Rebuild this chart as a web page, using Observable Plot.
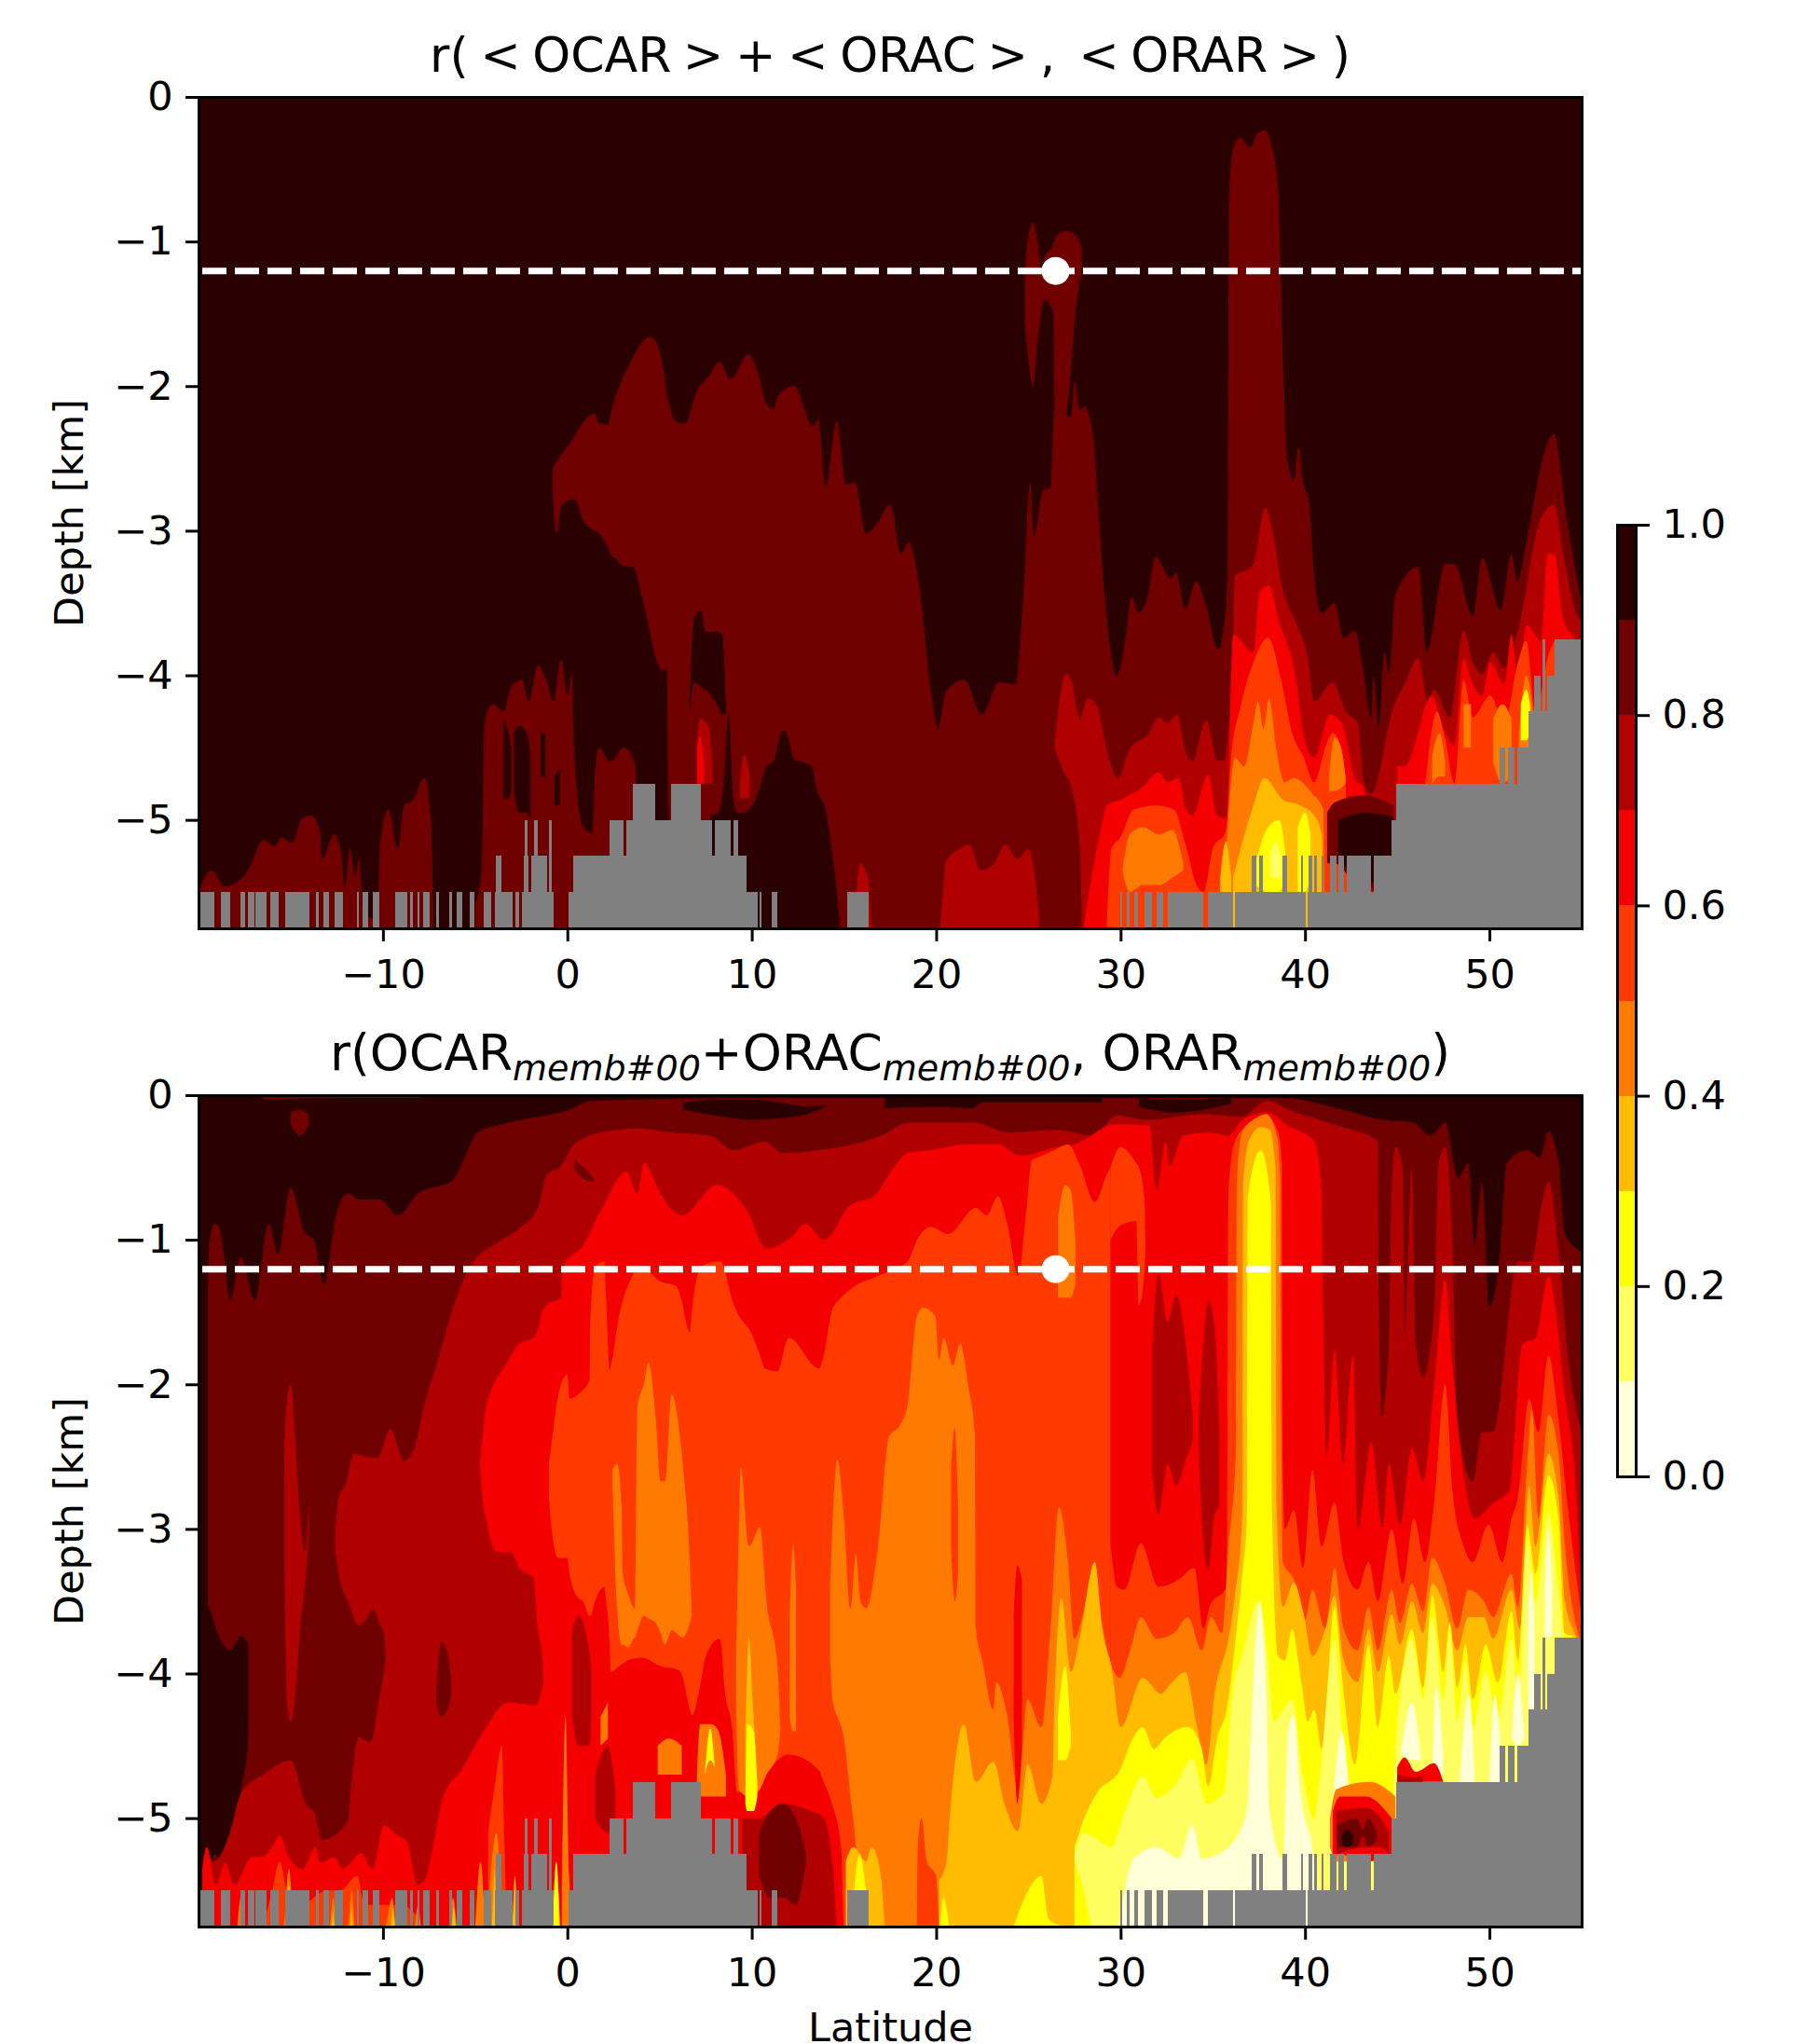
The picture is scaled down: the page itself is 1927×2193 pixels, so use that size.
<!DOCTYPE html>
<html><head><meta charset="utf-8">
<script src="https://cdn.jsdelivr.net/npm/d3@7"></script>
<script src="https://cdn.jsdelivr.net/npm/@observablehq/plot@0.6"></script>
<style>
html,body{margin:0;padding:0;background:#fff;width:1927px;height:2193px;overflow:hidden}
#fig{position:relative;width:1927px;height:2193px;font-family:"DejaVu Sans",sans-serif}
#fig>div.p{position:absolute;left:0}
.t{position:absolute;left:213px;width:1484px;text-align:center;line-height:60px;white-space:pre;color:#000}
.t sub{font-size:38px;font-style:italic;vertical-align:baseline;position:relative;top:11px}
</style></head><body><div id="fig"></div>
<script>
const thresholds=[.1,.2,.3,.4,.5,.6,.7,.8,.9];
const palette=["#ffffd8","#ffff62","#ffff00","#ffbc00","#ff7a00","#ff3a00","#f40000","#b00000","#700000","#2a0000"];
const latTicks=[-10,0,10,20,30,40,50];
const depthTicks=[0,-1,-2,-3,-4,-5];
const barTicks=[0,.2,.4,.6,.8,1];
const bedDepth=-5.75;
const refDepth=-1.2, refLat=26.45;

// sea-floor mask: [lat from, lat to, floor depth]
const floor=[[-20,-19.15,-5.5],[-18.8,-18.3,-5.5],[-17.75,-17.45,-5.5],[-17.3,-16.95,-5.5],[-16.9,-16.3,-5.5],[-16.1,-15.65,-5.5],[-15.3,-14,-5.5],[-13.65,-13.5,-5.5],[-13.25,-12.9,-5.5],[-12.6,-12.15,-5.5],[-11.4,-11.3,-5.5],[-11.1,-10.8,-5.5],[-10.55,-10.2,-5.5],[-9.35,-8.7,-5.5],[-8.55,-8.4,-5.5],[-8.1,-8,-5.5],[-7.8,-7.45,-5.5],[-7.1,-6.95,-5.5],[-6.4,-6.25,-5.5],[-6,-5.7,-5.5],[-5.3,-5.05,-5.5],[-4.55,-4.15,-5.5],[-3.95,-2.95,-5.5],[-2.8,-2.6,-5.5],[-2.45,-.75,-5.5],[.05,10.3,-5.5],[10.4,10.55,-5.5],[11.1,11.4,-5.5],[15.2,16.35,-5.5],
[-3.9,-3.55,-5.25],[-2.35,-2.1,-5.25],[-1.95,-1.1,-5.25],[.3,9.7,-5.25],[-2.3,-2.15,-5],[-1.8,-1.6,-5],[-1,-.85,-5],[2.3,3.05,-5],[3.2,7.85,-5],[8,8.85,-5],[9,9.25,-5],[3.55,4.75,-4.75],[5.6,7.25,-4.75],
[30,30.1,-5.5],[30.35,30.5,-5.5],[30.75,30.95,-5.5],[31.3,31.7,-5.5],[31.95,32.3,-5.5],[32.55,34.5,-5.5],[34.75,36.1,-5.5],[36.2,40.05,-5.5],[40.15,55,-5.5],
[37.1,37.35,-5.25],[37.5,37.7,-5.25],[38.8,39.05,-5.25],[39.8,39.9,-5.25],[40.2,40.4,-5.25],[40.5,40.65,-5.25],[40.9,41,-5.25],[41.35,41.7,-5.25],[41.8,42.1,-5.25],[42.25,43.6,-5.25],[43.75,55,-5.25],
[44.7,55,-5],[44.95,55,-4.75],[50.55,50.85,-4.5],[51,51.35,-4.5],[51.5,55,-4.5],[52.1,55,-4.25],[52.4,52.8,-4],[53.15,55,-4],[52.9,53.05,-3.75],[53.55,55,-3.75]];

// Panel 1 contour regions: [lat, upper depth, lower depth (floor when omitted)]
const a1_85_main=[[-.81,-2.59,-2.7],[-.75,-2.56,-2.85],[-.57,-2.52,-3.02],[-.37,-2.48,-2.85],[-.25,-2.46,-2.82],[.12,-2.4,-2.79],[.37,-2.35,-2.78],[.86,-2.25,-2.93],[1.47,-2.19,-3],[1.72,-2.26,-3.02],[1.84,-2.26,-3.04],[2.21,-2.27,-3.12],[2.33,-2.2,-3.16],[2.7,-2.04,-3.2],[2.95,-1.96,-3.24],[3.44,-1.83,-3.25],[3.56,-1.8,-3.25],[4.05,-1.7,-3.46],[4.42,-1.66,-3.67],[4.79,-1.69,-3.88],[4.91,-1.72,-3.92],[5.16,-1.85,-3.97],[5.41,-2.06,-3.95],[5.45,-2.08,-4.7],[5.77,-2.23],[6.39,-2.26],[7,-2.04],[7.74,-1.92],[8.23,-1.83],[8.85,-1.95],[9.83,-1.78],[10.3,-1.89],[10.8,-2.12],[11.2,-2.16],[11.4,-2.07],[12.3,-2],[13.3,-2.28],[13.6,-2.23],[14,-2.7],[14.6,-2.24],[15.1,-2.68],[15.6,-2.67],[16.2,-3.02],[16.8,-2.95],[17.5,-2.82],[18.1,-3.16],[18.5,-3.08],[18.8,-3.18],[19.1,-3.4],[19.7,-4.1],[20.1,-4.37],[20.5,-4.12],[21.5,-4.03],[22.5,-4.27],[23.4,-4.05],[24.3,-4.06],[24.7,-3.5],[25.1,-2.67],[25.3,-3.04],[25.8,-2.72],[26.2,-2.7],[26.4,-2.17],[27.3,-2.21],[27.5,-1.97],[27.8,-2.17],[28,-2.14],[28.5,-2.33],[28.75,-2.78],[29.2,-3.54],[29.8,-4],[30.2,-3.8],[30.6,-3.46],[31,-3.57],[31.45,-3.46],[31.9,-3.18],[32.7,-3.33],[33,-3.29],[33.5,-3.54],[34.1,-3.35],[34.6,-3.5],[35.3,-3.82],[35.7,-3.54],[35.8,-3.2],[35.88,-.7],[36.1,-.36],[36.5,-.28],[37,-.35],[37.45,-.25],[37.8,-.23],[38.3,-.4],[38.55,-.66],[38.8,-1.8],[39.05,-2.51],[39.4,-2.65],[39.65,-2.42],[39.9,-2.67],[40.2,-2.78],[40.5,-3.31],[40.9,-3.57],[41.6,-3.5],[42.1,-3.74],[42.7,-3.69],[43.1,-3.91],[43.6,-4.29],[43.7,-4],[44,-4.37],[44.3,-3.84],[44.55,-3.99],[44.9,-3.44],[46.15,-3.25],[46.6,-3.84],[47.6,-3.23],[48.1,-3.23],[49.1,-3.59],[49.6,-3.19],[50.6,-3.55],[51.2,-3.16],[51.5,-3.35],[52,-3.08],[52.8,-2.55],[53.5,-2.33],[54.2,-2.93],[55,-3.5]];
const a1_85_lobe=[[24.8,-1.27,-1.57],[24.95,-1,-1.76],[25.25,-.87,-2],[25.5,-1,-1.68],[25.7,-1.19,-1.49],[25.85,-1.12,-1.4],[26.35,-1.02,-1.49],[26.45,-.98,-2.25],[26.9,-.93,-2.25],[27.2,-.93,-2.05],[27.5,-.95,-1.57],[27.9,-1.04,-1.19]];
const a1_85_lowA=[[-19.9,-5.46],[-19.3,-5.35],[-18.55,-5.46],[-17.3,-5.35],[-16.5,-5.14],[-15.85,-5.18],[-15.5,-5.12],[-14.9,-5.16],[-14.4,-4.99],[-13.9,-4.97],[-13.4,-5.08],[-13.3,-5.27],[-12.65,-5.1],[-12.3,-5.2],[-12.05,-5.46],[-11.8,-5.2],[-11.5,-5.39],[-11.3,-5.27],[-11.05,-5.65],[-10.3,-5.69],[-10.15,-5.16],[-9.7,-4.93],[-9.2,-5.2],[-8.85,-4.9],[-8.35,-4.86],[-7.75,-4.71],[-7.4,-5],[-7.25,-5.73]];
const a1_85_lowB=[[-5,-5.58],[-4.65,-5.35],[-4.5,-4.33],[-4.05,-4.2],[-3.45,-4.25],[-3.05,-4.08],[-2.45,-4.03],[-2.1,-4.18],[-1.6,-3.93],[-1.1,-4.05],[-.75,-4.18],[-.35,-3.89],[0,-4.14],[.25,-3.99],[.35,-4.48],[.85,-5.05],[1.35,-5.09],[1.5,-4.67],[1.7,-4.5],[2.35,-4.6],[3.05,-4.5],[3.7,-4.63],[3.72,-4.75]];
const a1_95_slitA=[[-3.45,-4.3,-4.85],[-3.2,-4.4,-4.85],[-3.05,-4.5,-4.8]];
const a1_95_slitB=[[-2.9,-4.4,-4.8],[-2.6,-4.35,-4.95],[-2.2,-4.4,-4.95],[-2,-4.55,-5]];
const a1_95_slitC=[[-1.45,-4.4,-4.7],[-1.2,-4.4,-4.7]];
const a1_95_slitD=[[-.7,-4.7,-4.9],[-.4,-4.65,-4.9]];
const a1_95_capA=[[6.63,-4.2,-4.27],[6.88,-3.6,-4.05],[7.25,-3.55,-4.08],[7.5,-3.7,-4.1],[8.1,-3.7,-4.2],[8.4,-3.72,-4.27],[8.6,-4.2,-4.27]];
const a1_95_capB=[[7.74,-4.97],[8.2,-4.95],[8.5,-4.7],[8.75,-4.26],[9,-4.85],[9.2,-4.95],[9.55,-4.95],[10.3,-4.83],[10.8,-4.63],[11.15,-4.6],[11.7,-4.38],[12,-4.44],[12.25,-4.57],[13.25,-4.63],[13.5,-4.78],[14,-4.93],[14.4,-5.27],[14.65,-5.54],[14.8,-5.75]];
const a1_75_mid=[[26.4,-4.5,-4.5],[27.05,-3.99,-4.7],[27.3,-4.03,-4.76],[27.8,-4.31,-5.2],[27.95,-4.25],[28.25,-4.16],[28.75,-4.22],[29.25,-4.52],[29.85,-4.71],[30.45,-4.52],[31.55,-4.4],[32.05,-4.29],[32.55,-4.33],[33.05,-4.27],[33.55,-4.54],[33.9,-4.59],[34.65,-4.31],[35.25,-4.59],[35.6,-4.59],[36.1,-3.72],[36.2,-3.31],[36.85,-3.27],[37.2,-3.23],[37.85,-2.84],[38.3,-3.04],[38.7,-3.35],[39.55,-3.65],[40.15,-3.88],[40.5,-4.18],[41.5,-4.05],[42.2,-4.25],[42.85,-4.33],[43.2,-4.74],[43.6,-4.82],[44.8,-4.22],[45.4,-4.06],[46.15,-3.88],[46.65,-4.18],[47,-4.1],[47.85,-4.29],[48.6,-3.69],[49.1,-3.91],[49.6,-3.99],[50.2,-3.84],[50.8,-3.95],[51.55,-3.69],[52.75,-2.93],[53.5,-2.82],[54,-3.16],[54.7,-3.57],[55,-3.63]];
const a1_75_low=[[20.2,-5.75],[20.3,-5.6],[20.55,-5.28],[21.3,-5.2],[21.8,-5.17],[22.4,-5.35],[23.15,-5.3],[23.75,-5.17],[24.4,-5.27],[25,-5.2],[25.5,-5.57],[25.6,-5.75]];
const a1_75_spotA=[[7,-4.5,-4.75],[7.2,-4.3,-4.75],[7.7,-4.37,-4.75],[7.85,-4.6,-4.75]];
const a1_75_spotB=[[9.35,-4.75,-4.85],[9.6,-4.55,-4.85],[9.9,-4.7,-4.85]];
const a1_75_spotC=[[15.7,-5.5],[15.85,-5.3],[16.3,-5.4],[16.5,-5.75]];
const a1_65_spotA=[[7.05,-4.5,-4.75],[7.2,-4.42,-4.75],[7.4,-4.6,-4.75]];
const a1_65_main=[[28,-5.73],[28.9,-5.08],[29.25,-4.9],[30,-4.86],[30.6,-4.82],[31.3,-4.76],[32.05,-4.67],[32.55,-4.74],[33.15,-4.71],[33.55,-4.93],[33.9,-4.97],[34.75,-4.69],[35.25,-4.97],[35.75,-4.99],[36.1,-3.72],[37.2,-3.84],[37.55,-3.42],[38.05,-3.38],[38.55,-3.61],[39.55,-4.06],[39.9,-4.4],[40.5,-4.57],[41.35,-4.27],[42,-4.33],[42.7,-4.71],[43.2,-4.78],[43.3,-5.5]];
const a1_65_right=[[45,-4.63],[45.4,-4.63],[46.9,-4.14],[47.4,-4.33],[48.1,-4.48],[48.6,-3.88],[49,-4.03],[49.6,-4.14],[50.05,-3.91],[50.8,-4.06],[51.2,-3.72],[51.55,-4.03],[52,-3.65],[52.8,-3.76],[53.15,-3.16],[53.5,-3.16],[54,-3.61],[54.75,-3.76],[55,-3.8]];
const a1_55_main=[[29.25,-5.73],[29.5,-5.2],[30,-5.12],[30.7,-4.93],[31.95,-4.9],[32.9,-4.93],[33.5,-5.16],[34.15,-5.46],[34.5,-5.5],[35,-5.2],[35.7,-5.08],[36,-4.56],[36.5,-4.22],[37.2,-3.91],[38,-3.74],[38.7,-4.03],[39.3,-4.4],[39.9,-4.56],[40.5,-4.74],[41.15,-4.48],[41.5,-4.4],[42,-4.52],[42.2,-4.78],[42.3,-5]];
const a1_55_right=[[45,-5],[46.5,-4.75],[46.8,-4.44],[47.15,-4.25],[47.6,-4.44],[48.1,-4.75],[48.6,-4.03],[49.1,-4.29],[50.05,-4.14],[50.8,-4.33],[51.55,-3.91],[52,-3.76],[52.5,-4.25],[53.25,-3.84],[53.7,-3.75],[54.5,-3.8],[55,-3.9]];
const a1_45_spots=[[30.1,-5.35,-5.35],[30.5,-5.1,-5.5],[31.2,-5.05,-5.45],[32.1,-5.1,-5.45],[32.8,-5.07,-5.4],[33.4,-5.3,-5.35]];
const a1_45_tower=[[35.7,-5.3],[36.2,-4.57],[36.7,-4.63],[37.2,-4.33],[37.45,-4.18],[37.75,-4.37],[38.05,-4.16],[38.45,-4.52],[38.9,-4.74],[39.4,-4.71],[40.4,-4.82],[41,-4.93],[41.05,-5.5]];
const a1_45_patch=[[41.3,-4.7,-4.8],[41.6,-4.43,-4.8],[41.95,-4.5,-4.78],[42.2,-4.7,-4.75]];
const a1_45_spotA=[[46.9,-4.55,-4.75],[47.3,-4.4,-4.7],[47.6,-4.6,-4.7]];
const a1_45_spotB=[[48.6,-4.2,-4.5],[49,-4.2,-4.5]];
const a1_45_spotC=[[50.2,-4.3,-4.6],[50.7,-4.2,-4.75],[51.2,-4.3,-4.7]];
const a1_45_spotD=[[51.6,-4.4,-4.6],[52,-4,-4.5],[52.4,-4.3,-4.5]];
const a1_35_tower=[[36.1,-5.4],[37.2,-4.9],[37.8,-4.71],[38.8,-4.86],[39.75,-4.9],[40.5,-4.97],[40.9,-5.1],[41,-5.5]];
const a1_35_spot=[[35.4,-5.4,-5.5],[35.7,-5.15,-5.5],[36,-5.4,-5.5]];
const a1_25_spotA=[[37.3,-5.3,-5.45],[38,-5.05,-5.5],[38.6,-5,-5.5],[39,-5.3,-5.35]];
const a1_25_spotB=[[39.6,-5.05,-5.5],[40,-4.95,-5.5],[40.3,-5.1,-5.4]];
const a1_25_spotC=[[51.7,-4.2,-4.45],[52,-4.1,-4.45],[52.2,-4.2,-4.4]];
const a1_15_spot=[[38.1,-5.25,-5.4],[38.4,-5.15,-5.4],[38.7,-5.25,-5.4]];
const a1_85_patch=[[41.2,-4.95,-5.3],[41.6,-4.88,-5.3],[43.2,-4.83,-5.5],[44.8,-4.9,-5.3]];
const a1_95_patch=[[41.8,-5,-5.25],[43.3,-4.95,-5.45],[44.8,-4.98,-5.25]];

// Panel 2 contour regions
const a2_85_main=[[-19.5,-1.4],[-19.4,-1],[-19.15,-.89],[-18.9,-.91],[-18.65,-1.08],[-18.3,-1.42],[-17.7,-1.12],[-16.95,-1.42],[-16.2,-.89],[-15.7,-1.1],[-15,-.64],[-14.25,-.95],[-13.75,-1],[-13.2,-1.31],[-12.55,-.83],[-11.9,-.68],[-11.3,-.72],[-10.2,-.72],[-9.2,-.83],[-8.1,-.68],[-6.25,-.59],[-4.8,-.25],[-3.8,-.21],[-2.45,-.17],[-.1,-.11],[1.35,-.04],[3.8,-.03],[10,-.02],[38.8,-.02],[41.75,-.09],[44.2,-.17],[45.9,-.19],[46.8,-.28],[47.6,-.19],[48.3,-.57],[48.85,-.47],[49.2,-1.04],[49.6,-.6],[50,-1.46],[50.55,-1.12],[50.95,-.47],[52,-.38],[52.75,-.43],[53.2,-.25],[53.75,-.47],[54.1,-.96],[55,-1.08]];
const a2_95_column=[[-20,-3.5],[-19.4,-3.55,-5.6],[-19.15,-3.65,-5.25],[-18.9,-3.74,-5.27],[-18.3,-3.84,-5.1],[-17.7,-3.74,-4.8],[-17.3,-3.8,-4.45],[-17.28,-4,-4]];
const a2_95_surfA=[[6.3,-.05,-.1],[8,-.03,-.14],[10,-.03,-.17],[11.5,-.05,-.16],[13,-.08,-.13],[14,-.07,-.08]];
const a2_95_surfB=[[17.2,0,-.09],[20,0,-.08],[22,0,-.09],[22.5,0,-.05],[24,0,-.05],[29,0,-.05]];
const a2_95_surfC=[[31,-.02,-.08],[33,-.03,-.12],[36,-.02,-.06]];
const a2_85_ovalA=[[-15,-.12,-.2],[-14.5,-.1,-.28],[-14,-.14,-.2]];
const a2_85_surf=[[-16.5,0,-.03],[-12,0,-.02],[-8,0,-.02]];
const a2_75_main=[[-12.6,-3.04],[-12.4,-2.78],[-12.05,-2.7],[-11.55,-2.48],[-10.95,-2.5],[-10.3,-2.51],[-9.6,-2.31],[-8.85,-2.53],[-8.25,-2.42],[-7.75,-2.14],[-7.1,-1.87],[-6.25,-1.49],[-5.3,-1.19],[-3.8,-1.02],[-2.6,-.92],[-1.6,-.78],[-1.1,-.55],[-.35,-.49],[.37,-.34],[2.1,-.25],[3.8,-.23],[5.77,-.26],[7.75,-.28],[9,-.38],[10.7,-.32],[11.65,-.4],[13.6,-.38],[17.2,-.27],[18.45,-.19],[20.4,-.19],[22,-.19],[24,-.26],[26.5,-.24],[28.5,-.28],[29.8,-.14],[31.5,-.17],[34.5,-.13],[36.5,-.15],[37.95,-.04],[39.3,-.11],[41.75,-.21],[43.95,-.32],[44,-1.42],[44.15,-2.22],[44.5,-1.87],[44.7,-.66],[44.9,-.36],[45.3,-.51],[45.4,-1.64],[45.8,-.49],[46,-1.72],[46.4,-1.95],[47,-1.49],[47.25,-.47],[47.6,-.36],[48,-1.04],[48.25,-2.25],[49.1,-2.67],[49.6,-2.33],[50.2,-2.33],[51.55,-1.15],[52.3,-1.15],[52.75,-.81],[53.2,-.6],[53.75,-1.08],[54.25,-1.8],[55,-2.33]];
const a2_75_narrow=[[-15.35,-2.4,-3.2],[-15.2,-2.1,-4.2],[-15,-2,-4.33],[-14.75,-2.4,-4.15],[-14.5,-2.9,-3.7],[-14.2,-3.15,-3.35],[-14,-2.8,-3]];
const a2_85_patch=[[-12.65,-3.1],[-12.3,-3.37],[-11.9,-3.5,-5.05],[-11.3,-3.67,-4.44],[-10.7,-3.58,-4.48],[-10.55,-3.55,-4.45],[-10.2,-3.65,-4.18],[-9.95,-3.72,-4],[-9.85,-3.91,-3.91]];
const a2_85_notch=[[.4,-.45,-.52],[.9,-.5,-.58],[1.45,-.58,-.6]];
const a2_85_ovalB=[[-7.1,-4.1,-4.2],[-6.85,-3.78,-4.3],[-6.5,-3.85,-4.25],[-6.3,-4.05,-4.15]];
const a2_75_lowLeft=[[-19.65,-5.2],[-19.15,-5.3],[-18.3,-5.1],[-17.7,-4.83],[-16.5,-4.7],[-15,-4.6],[-14.2,-4.9],[-13.7,-4.97],[-13.3,-5.15],[-12.05,-5.05],[-11.8,-4.97],[-11.3,-4.45],[-10.7,-4.48],[-10.2,-4.18],[-9.85,-3.91]];
const a2_65_main=[[-4.75,-2.55,-2.55],[-4.55,-2.3,-2.85],[-4.4,-2.14,-2.93],[-4.3,-2.1,-3],[-3.8,-1.95,-3.16],[-3.55,-1.91,-3.16],[-3.05,-1.8,-3.16],[-2.6,-1.72,-3.27],[-2.45,-1.71,-3.29],[-1.85,-1.68,-3.33],[-1.6,-1.62,-3.69],[-1.35,-1.49,-3.9],[-1.1,-1.45],[-.35,-1.4],[-.25,-1.19],[.85,-1.04],[1.85,-.79],[3.2,-.53],[3.8,-.68],[4.15,-.47],[5.05,-.68],[5.65,-.79],[6.25,-.83],[8.1,-.62],[9.7,-.79],[10.8,-1.06],[12.15,-.98],[12.9,-.89],[13.9,-1],[15.35,-.76],[16.6,-.7],[17.75,-.49],[18.45,-.4],[19.7,-.38],[21.65,-.34],[23.35,-.34],[24.6,-.42],[26.55,-.36],[27.5,-.34],[29.75,-.2],[31.55,-.21],[31.95,-.66],[32.45,-.32],[32.65,-.49],[33.4,-.28],[34.9,-.26],[35.85,-.28],[36.6,-.17],[37.95,-.12],[39.05,-.21],[40.5,-.32],[40.9,-.66],[41,-1.53],[41.15,-2.51],[41.6,-1.76],[42.05,-2.55],[42.6,-1.8],[42.85,-3],[43.6,-2.4],[44.2,-2.99],[44.55,-2.55],[45.15,-2.97],[45.8,-2.44],[46.4,-2.67],[47,-2.02],[47.6,-1.27],[48,-1.87],[48.6,-2.63],[49.2,-2.93],[50.2,-2.82],[51.05,-2.74],[51.8,-1.72],[52.5,-1.68],[53.2,-1.25],[53.6,-1.49],[54,-1.98],[54.75,-2.85],[55,-3.53]];
const a2_65_lowLeft=[[-19.8,-5.35],[-19.55,-5.2],[-19.05,-5.46],[-18.55,-5.31],[-18.05,-5.46],[-17.1,-5.27],[-16.6,-5.27],[-16,-5.2],[-15.6,-5.12],[-15.1,-5.27],[-14.35,-5.35],[-13.65,-5.2],[-13.4,-5.31],[-12.65,-5.27],[-12.15,-5.35],[-11.2,-5.24],[-10.55,-5.35],[-9.95,-5.05],[-9.2,-5.12],[-8.7,-5.16],[-8.1,-5.46],[-7.75,-5.43],[-6.75,-4.86],[-5.75,-4.67],[-4.55,-4.4],[-3.2,-4.2],[-1.7,-4.22],[-1.35,-4.1],[-1.1,-3.99]];
const a2_75_inA=[[.25,-3.7,-4.3],[.6,-3.6,-4.5],[1.2,-3.85,-4.5],[1.3,-4,-4.3]];
const a2_75_inB=[[1.5,-4.7,-5],[2.2,-4.5,-5.1],[2.6,-4.8,-5]];
const a2_75_inC=[[31.7,-1.8,-2.6],[32.05,-1.23,-2.9],[32.55,-1.57,-2.55],[33,-1.38,-2.7],[33.6,-1.8,-2.5],[33.9,-2.2,-2.4]];
const a2_75_inD=[[34.25,-2.2,-2.5],[34.5,-1.7,-3.1],[34.75,-1.42,-3.28],[35.1,-1.6,-2.9],[35.35,-2.3,-2.85]];
const a2_55_main=[[-1,-2.55,-2.78],[-.85,-2.4,-3],[-.5,-2.08,-3.2],[0,-1.93,-3.2],[.12,-2.1,-3.31],[.6,-2.07,-3.48],[.85,-2.04,-3.5],[1.2,-1.97,-3.6],[1.25,-1.55,-3.6],[1.5,-1.19,-3.5],[2,-1.15,-3.4],[2.1,-1.4,-3.5],[2.3,-1.9,-3.8],[2.35,-1.88,-3.99],[2.8,-1.53,-3.95],[3.45,-1.27,-3.9],[4.05,-1.19,-3.89],[5.05,-1.29,-3.95],[5.9,-1.32,-3.97],[6.15,-1.4,-3.99],[6.65,-1.64,-4.25],[6.75,-1.5,-4.29],[7.25,-1.19,-4.05],[7.5,-1.17,-3.88],[8.25,-1.15,-3.76],[8.35,-1.15,-3.8],[8.5,-1.2,-4.07],[8.95,-1.42,-4.4],[9.2,-1.5,-4.82],[9.95,-1.64,-4.8],[10.45,-1.8,-4.78],[10.7,-1.89,-4.7],[11.4,-1.91,-4.6],[11.9,-1.7,-4.56],[12,-1.68,-4.56],[13.65,-1.89,-4.67],[13.9,-1.8,-4.75],[14.35,-1.49,-4.9],[14.85,-1.4,-5.2],[15,-1.38],[15.35,-1.34],[16.85,-1.25],[17.75,-1.2],[18.45,-1.15],[19.05,-.98],[19.7,-.91],[20.65,-.96],[22.15,-.78],[22.75,-.83],[23.35,-.7],[23.85,-.89],[24.45,-1.25],[24.85,-.85],[25.2,-.45],[25.7,-.42],[26.4,-.38],[27.15,-.34],[27.75,-.47],[28.6,-.74],[29.25,-.55],[29.45,-.5]];
const a2_55_notch=[[29.45,-.5,-1],[30,-.36,-.9],[30.85,-.47,-.87],[31,-.5,-1.45],[31.3,-.74,-1.2],[31.35,-1,-1.05]];
const a2_55_right=[[29.45,-3.1],[29.8,-3.4],[30.2,-3.42],[31.1,-3.1],[32.05,-3.4],[33.15,-3.35],[34,-3.27],[34.5,-3.69],[34.85,-3.53],[35.75,-3.4],[35.85,-.66],[36.2,-.32],[36.85,-.21],[37.95,-.15],[38.55,-.26],[38.75,-.47],[38.77,-1.49],[38.8,-2.55],[38.9,-3],[39.4,-2.87],[39.9,-3.27],[40.4,-2.59],[40.9,-3.12],[41.6,-2.82],[42.1,-3.23],[42.85,-3.42],[43.45,-3.23],[43.95,-3.5],[44.7,-3],[45.3,-3.38],[45.9,-2.93],[46.5,-3.23],[47,-2.82],[47.6,-2],[48,-2.74],[48.6,-3.12],[49.1,-3.23],[49.95,-2.97],[50.7,-3.23],[51.2,-2.93],[51.55,-2.78],[52.15,-2.1],[52.65,-2.33],[53.2,-1.8],[53.75,-2.25],[54.25,-2.85],[55,-3.61]];
const a2_55_bitA=[[-4.3,-5.1],[-3.9,-4.75],[-3.55,-4.5],[-3.4,-5.2],[-3.3,-5.75]];
const a2_55_low=[[-16.5,-5.75],[-16,-5.5],[-15.6,-5.3],[-15.2,-5.5],[-14.5,-5.6],[-13,-5.5],[-12.3,-5.5],[-11.4,-5.4],[-11,-5.6],[-10,-5.6],[-9,-5.6],[-8,-5.7]];
const a2_45_blobA=[[2.45,-2.59,-2.7],[2.7,-2.55,-3.55],[2.95,-2.85,-3.8],[3,-3.3,-3.8],[3.3,-3.45,-3.82],[3.65,-3.55,-3.75],[3.7,-3.2,-3.75],[3.75,-2.5,-3.72],[3.8,-2.15,-3.7],[4.15,-2,-3.6],[4.4,-1.85,-3.62],[4.8,-2.25,-3.65],[5.05,-2.67,-3.72],[5.3,-2.67,-3.8],[5.65,-2.07,-3.7],[6.25,-2.55,-3.75],[6.65,-3.25,-3.65],[6.75,-3.6,-3.6]];
const a2_45_blobB=[[9.15,-3.9,-4.2],[9.3,-3,-4.8],[9.4,-2.57,-4.82],[9.85,-3.12,-4.85],[10.45,-2.99,-4.8],[10.8,-3.5,-4.7],[11.4,-3.95,-4.56],[11.55,-4.37,-4.4]];
const a2_45_blobC=[[12.05,-3.6,-4.3],[12.25,-3.1,-4.4],[12.4,-3.4,-4.4]];
const a2_45_main=[[14.25,-3.4,-3.9],[14.4,-2.9,-4.2],[14.65,-2.52,-4.3],[15,-2.93,-4.45],[15.35,-3.55,-4.85],[15.65,-3.17,-5.2],[15.9,-3.5],[16.2,-3.55],[16.85,-3.12],[17.45,-2.36],[18,-2.29],[18.45,-2.14],[18.95,-1.53],[19.3,-1.47],[19.95,-1.53],[20.15,-1.83],[20.4,-1.68],[20.9,-1.87],[21.3,-1.72],[21.75,-2.02],[22.1,-2.36],[22.15,-3.69],[22.5,-3.91],[23.1,-4.25],[23.25,-4.06],[23.85,-4.29],[24.45,-4.82],[24.95,-4.18],[25.7,-4.37],[26.2,-3.69],[26.65,-2.85],[27.15,-3.23],[27.5,-3.76],[28,-3.57],[28.6,-3.23],[29,-3.65],[29.95,-4.03],[30.6,-3.8],[31.1,-3.61],[31.95,-3.76],[32.9,-3.72],[33.65,-3.61],[34.4,-3.84],[34.9,-3.61],[35.5,-3.72],[35.85,-3.12],[36.25,-2.48],[36.3,-.6],[36.6,-.25],[37.2,-.17],[37.9,-.13],[38.5,-.3],[38.65,-.55],[38.68,-1.5],[38.72,-2.5],[38.8,-3.23],[39.4,-3.35],[40,-3.63],[40.4,-3.42],[41.1,-3.69],[41.6,-3.27],[42.1,-3.69],[42.85,-3.84],[43.45,-3.54],[43.95,-3.84],[44.7,-3.42],[45.15,-3.65],[45.8,-3.38],[46.4,-3.57],[46.9,-3.2],[47.6,-3.38],[48.25,-3.69],[48.85,-3.42],[49.7,-3.5],[50.2,-3.61],[51.2,-3.31],[51.55,-3.54],[52.05,-2.55],[52.3,-2.17],[52.65,-2.93],[53.2,-2.21],[53.75,-2.48],[54.1,-3.12],[54.75,-3.69],[55,-3.8]];
const a2_55_thin=[[20.8,-2.6,-3.1],[21,-2.3,-3.5],[21.2,-2.9,-3.3]];
const a2_65_thin=[[24.2,-3.6,-4.3],[24.4,-3.25,-4.9],[24.65,-3.35,-4.5]];
const a2_55_bitB=[[18.95,-5.75],[19,-5.2],[19.2,-5],[19.5,-5.3],[20,-5.4],[20.15,-5.75]];
const a2_45_dot=[[26.6,-.85,-1.4],[27,-.62,-1.4],[27.3,-.66,-1.4],[27.55,-1,-1.3]];
const a2_45_spikeA=[[-5,-5.75],[-4.7,-5.3],[-4.4,-5.75],[-4.1,-5.3],[-3.85,-5.1],[-3.55,-5.5],[-3.3,-5.75]];
const a2_45_spikeB=[[-.3,-5.5],[-.1,-4.3],[.1,-5.4],[.3,-5.75]];
const a2_45_comb=[[-17.9,-5.75],[-17.7,-5.55],[-17.5,-5.75],[-15.4,-5.75],[-15.1,-5.35],[-14.8,-5.75],[-12.9,-5.75],[-12.7,-5.55],[-12.5,-5.75],[-11.9,-5.75],[-11.7,-5.5],[-11.5,-5.75],[-9.9,-5.75],[-9.5,-5.55],[-9.3,-5.75],[-8.3,-5.75],[-8.1,-5.6],[-7.9,-5.75],[-6.4,-5.75],[-6.2,-5.55],[-6,-5.75]];
const a2_45_spotA=[[7,-4.8,-4.8],[7.2,-4.35,-4.85],[7.8,-4.35,-4.85],[8.2,-4.4,-4.85],[8.6,-4.7,-4.85]];
const a2_45_spotB=[[4.9,-4.5,-4.7],[5.5,-4.45,-4.7],[6.2,-4.5,-4.7]];
const a2_45_spotC=[[1.8,-4.3,-4.5],[2.2,-4.2,-4.45]];
const a2_35_spikeC=[[9.65,-4.4,-4.75],[9.85,-3.75,-4.75],[10.05,-4.2,-4.7],[10.2,-4.5,-4.6]];
const a2_35_comb=[[-15.3,-5.75],[-15.1,-5.45],[-14.9,-5.75],[-12.8,-5.75],[-12.7,-5.65],[-12.6,-5.75],[-11.8,-5.75],[-11.7,-5.62],[-11.6,-5.75],[-9.6,-5.75],[-9.45,-5.62],[-9.3,-5.75],[-6.3,-5.75],[-6.15,-5.62],[-6,-5.75],[-4.1,-5.75],[-3.95,-5.35],[-3.8,-5.75],[-3,-5.75],[-2.85,-5.4],[-2.7,-5.75]];
const a2_35_main=[[20.15,-5.43],[20.55,-5.31],[20.8,-4.9],[21.5,-4.35],[22.15,-4.75],[23.1,-4.61],[23.7,-4.9],[24.45,-5.09],[24.95,-4.63],[25.7,-4.9],[26.3,-4.71],[26.4,-4.25],[26.8,-3.48],[27.3,-3.99],[27.75,-3.78],[28.6,-3.23],[29,-3.69],[29.5,-3.95],[30,-4.37],[31.2,-4.03],[32.2,-4.14],[32.65,-4.08],[33.5,-3.99],[34.15,-4.37],[34.65,-4.63],[35.1,-4.14],[35.85,-3.76],[36.2,-3.46],[36.6,-2.9],[36.65,-.6],[37,-.3],[37.6,-.22],[38.1,-.24],[38.4,-.5],[38.45,-2.8],[38.8,-3.54],[39.4,-3.37],[39.9,-3.57],[40.4,-3.88],[41.1,-3.69],[41.6,-3.46],[42.1,-3.91],[42.85,-4.06],[43.45,-3.69],[43.95,-3.99],[44.7,-3.59],[45.15,-3.8],[45.8,-3.5],[46.4,-3.72],[46.9,-3.38],[47.6,-3.54],[48.25,-3.84],[48.85,-3.61],[49.7,-3.61],[50.2,-3.76],[51.2,-3.42],[51.65,-3.69],[52.15,-2.7],[52.5,-3.12],[53.2,-2.48],[53.75,-2.78],[54.1,-3.5],[54.75,-3.76],[55,-3.85]];
const a2_35_bitA=[[15.1,-5.3],[15.5,-5.2],[16.2,-5.3],[16.5,-5.2],[17,-5.4],[17.2,-5.75]];
const a2_25_bitA=[[9.65,-4.85,-4.9],[9.75,-4.35,-4.95],[10.1,-4.4,-4.95],[10.3,-4.75,-4.85]];
const a2_25_bitB=[[7.45,-4.7,-4.7],[7.75,-4.38,-4.6],[8,-4.65,-4.65]];
const a2_25_bitC=[[-.8,-5.75],[-.6,-5.3],[-.4,-5.75]];
const a2_25_bitD=[[15.5,-5.55,-5.5],[15.85,-5.25,-5.5],[16.2,-5.5,-5.5]];
const a2_25_blob=[[26.6,-4.3,-4.6],[27,-3.95,-4.6],[27.3,-4.4,-4.5]];
const a2_25_smallA=[[20.2,-5.75],[20.4,-5.55],[20.7,-5.75]];
const a2_25_smallB=[[24.2,-5.75],[24.8,-5.55],[25.7,-5.4],[26.1,-5.7],[27,-5.75]];
const a2_25_main=[[27.5,-5.2],[28,-5.01],[28.75,-4.82],[29.95,-4.67],[30.7,-4.44],[31.2,-4.37],[31.8,-4.52],[32.45,-4.44],[33.65,-4.37],[34.4,-4.52],[34.75,-4.78],[35.25,-4.44],[35.75,-4.25],[36.2,-3.8],[36.6,-3.31],[36.85,-2.93],[36.9,-.7],[37.6,-.38],[38.15,-.75],[38.2,-2.8],[38.55,-3.88],[38.9,-3.91],[39.3,-3.69],[39.8,-4.06],[40.15,-4.33],[40.5,-4.25],[40.9,-4.52],[41.6,-3.54],[42.1,-4.14],[42.7,-4.63],[43.45,-3.8],[43.95,-4.37],[44.55,-3.88],[44.9,-4.14],[45.8,-3.69],[46.4,-4.1],[46.9,-3.46],[47.5,-3.99],[47.85,-3.65],[48.25,-4.1],[48.7,-3.8],[49.1,-4.18],[49.8,-3.8],[50.45,-4.06],[51.2,-3.57],[51.55,-3.91],[52.05,-2.97],[52.5,-3.31],[53.2,-2.63],[53.75,-2.93],[54.1,-3.72],[54.75,-3.76],[55,-3.8]];
const a2_15_left=[[27.5,-5.25,-5.3],[28,-5.1,-5.5],[28.5,-5.13],[29.5,-5.2],[30.2,-4.97],[31.2,-4.71],[31.95,-4.86],[32.9,-4.78],[33.9,-4.59],[34.65,-4.9],[35.6,-4.82],[36.1,-4.1],[36.6,-3.88],[37.45,-3.5],[37.95,-3.84],[38.3,-4.33],[38.8,-4.25],[39.3,-4.18],[39.9,-4.71],[40.5,-5.01],[40.75,-4.78],[41.6,-3.76],[42.1,-4.52],[42.5,-4.82],[43.3,-5],[44.7,-5],[44.9,-4.56],[45.15,-4.14],[45.8,-3.76],[46.4,-4.18],[46.9,-3.61],[47.5,-4.18],[47.85,-3.72],[48.25,-4.33],[48.7,-3.91],[49.1,-4.37],[49.8,-3.99],[50.45,-4.33],[51.2,-3.76],[51.55,-4.18],[52.05,-3.08],[52.5,-3.5],[53.2,-2.89],[53.75,-3.42],[54.1,-3.76],[55,-3.76]];
const a2_05_main=[[29.9,-5.75],[30.7,-5.28],[31.95,-5.2],[33.15,-5.28],[33.9,-5.05],[34.4,-5.28],[35.85,-5.2],[36.85,-4.95],[37.2,-4.03],[37.55,-3.5],[37.9,-4.14],[38.1,-4.97],[38.8,-5.28],[39.1,-4.37],[39.4,-4.29],[39.75,-4.82],[40.4,-5.2],[40.7,-5.5]];
const a2_05_a=[[41.5,-4.9,-5],[42,-4.4,-4.9],[42.4,-4.8,-4.9]];
const a2_05_b=[[45.2,-4.55,-4.55],[45.8,-4.2,-4.6],[46.3,-4.6,-4.6]];
const a2_05_c=[[46.9,-4.65,-4.65],[47.1,-4.1,-4.75],[47.5,-4.55,-4.7]];
const a2_05_d=[[48.4,-4.7],[48.9,-4.15],[49.2,-4.7]];
const a2_05_e=[[50,-4.7],[50.3,-4.15],[50.7,-4.7]];
const a2_05_f=[[51.2,-4.45,-4.45],[51.55,-4,-4.5],[51.9,-4.45,-4.45]];
const a2_05_g=[[52.1,-3.6,-4.4],[52.3,-3.3,-4.4],[52.45,-3.7,-4.3]];
const a2_05_h=[[53,-3.4,-3.75],[53.2,-3,-3.75],[53.4,-3.4,-3.75]];
const a2_45_patch=[[41.35,-5,-5.2],[41.7,-4.8,-5.3],[43.5,-4.75,-5.3],[44.9,-4.85,-5.25]];
const a2_65_patch=[[41.5,-4.95,-5.25],[41.9,-4.85,-5.25],[43.3,-4.85,-5.3],[44.7,-5,-5.25]];
const a2_75_patch=[[41.7,-4.95,-5.25],[43.3,-4.93,-5.2],[44.1,-5,-5.2],[44.55,-5.1,-5.25]];
const a2_85_patchB=[[41.75,-5.05,-5.2],[42.8,-5,-5.2],[43.15,-5.08,-5.12],[43.4,-5,-5.2],[43.9,-5.1,-5.15]];
const a2_95_patch=[[42.0,-5.12,-5.18],[42.3,-5.08,-5.2],[42.6,-5.12,-5.18]];
const a2_65_shelf=[[45,-4.65,-4.75],[45.4,-4.58,-4.75],[46,-4.68,-4.75],[47,-4.62,-4.75],[47.5,-4.75,-4.75]];
const a2_75_shelf=[[45,-4.7,-4.75],[46,-4.72,-4.75],[46.4,-4.7,-4.75]];
const a2_75_cold=[[9.45,-5],[10.45,-5],[11.6,-4.9],[13.2,-4.95],[13.9,-5],[14.4,-5.35],[14.6,-5.75]];
const a2_85_cold=[[10.4,-5.1,-5.4],[11,-4.95,-5.55],[11.7,-4.9,-5.55],[12.4,-5,-5.6],[12.95,-5.25,-5.3]];

const panel1=[[.85,a1_85_main],[.85,a1_85_lobe],[.85,a1_85_lowA],[.85,a1_85_lowB],[.95,a1_95_slitA],[.95,a1_95_slitB],[.95,a1_95_slitC],[.95,a1_95_slitD],[.95,a1_95_capA],[.95,a1_95_capB],[.75,a1_75_mid],[.75,a1_75_low],[.75,a1_75_spotA],[.75,a1_75_spotB],[.75,a1_75_spotC],[.65,a1_65_spotA],[.65,a1_65_main],[.65,a1_65_right],[.55,a1_55_main],[.55,a1_55_right],[.45,a1_45_spots],[.45,a1_45_tower],[.45,a1_45_patch],[.45,a1_45_spotA],[.45,a1_45_spotB],[.45,a1_45_spotC],[.45,a1_45_spotD],[.35,a1_35_tower],[.35,a1_35_spot],[.25,a1_25_spotA],[.25,a1_25_spotB],[.25,a1_25_spotC],[.15,a1_15_spot],[.85,a1_85_patch],[.95,a1_95_patch]];
const panel2=[[.85,a2_85_main],[.95,a2_95_column],[.95,a2_95_surfA],[.95,a2_95_surfB],[.95,a2_95_surfC],[.85,a2_85_ovalA],[.85,a2_85_surf],[.75,a2_75_main],[.75,a2_75_narrow],[.85,a2_85_patch],[.85,a2_85_notch],[.85,a2_85_ovalB],[.75,a2_75_lowLeft],[.65,a2_65_main],[.65,a2_65_lowLeft],[.75,a2_75_inA],[.75,a2_75_inB],[.75,a2_75_inC],[.75,a2_75_inD],[.55,a2_55_main],[.55,a2_55_notch],[.55,a2_55_right],[.55,a2_55_bitA],[.55,a2_55_low],[.75,a2_75_cold],[.85,a2_85_cold],[.45,a2_45_blobA],[.45,a2_45_blobB],[.45,a2_45_blobC],[.45,a2_45_main],[.55,a2_55_thin],[.65,a2_65_thin],[.55,a2_55_bitB],[.45,a2_45_dot],[.45,a2_45_spikeA],[.45,a2_45_spikeB],[.45,a2_45_comb],[.45,a2_45_spotA],[.45,a2_45_spotB],[.45,a2_45_spotC],[.35,a2_35_spikeC],[.35,a2_35_comb],[.35,a2_35_main],[.35,a2_35_bitA],[.25,a2_25_bitA],[.25,a2_25_bitB],[.25,a2_25_bitC],[.25,a2_25_bitD],[.25,a2_25_blob],[.25,a2_25_smallA],[.25,a2_25_smallB],[.25,a2_25_main],[.15,a2_15_left],[.05,a2_05_main],[.05,a2_05_a],[.05,a2_05_b],[.05,a2_05_c],[.05,a2_05_d],[.05,a2_05_e],[.05,a2_05_f],[.05,a2_05_g],[.05,a2_05_h],[.45,a2_45_patch],[.65,a2_65_patch],[.75,a2_75_patch],[.85,a2_85_patchB],[.95,a2_95_patch],[.65,a2_65_shelf],[.75,a2_75_shelf]];

const minus=d=>d<0?"\u2212"+(-d):String(d);
const colorScale={type:"threshold",domain:thresholds,range:palette};

function layer(level,rows){
  return Plot.areaY(rows,{x:d=>d[0],y1:d=>d[1],y2:d=>d[2]===undefined?bedDepth:d[2],fill:()=>level,curve:"monotone-x"});
}
function panel(layers,{top,height,marginBottom,xLabel}){
  const svg=Plot.plot({
    width:1927,height,marginLeft:213,marginRight:230,marginTop:103,marginBottom,
    style:{fontFamily:"DejaVu Sans",background:"transparent",overflow:"visible"},
    x:{domain:[-20,55]},y:{domain:[bedDepth,0]},color:colorScale,
    marks:[
      Plot.rect([0],{x1:-20,x2:55,y1:bedDepth,y2:0,fill:()=>.95}),
      ...layers.map(([level,rows])=>layer(level,rows)),
      Plot.rect(floor,{x1:d=>d[0],x2:d=>d[1],y1:d=>d[2],y2:bedDepth,fill:"#808080",shapeRendering:"crispEdges"}),
      Plot.ruleY([refDepth],{x1:-19.8,x2:55,stroke:"white",strokeWidth:7,strokeDasharray:"26,9"}),
      Plot.dot([[refLat,refDepth]],{x:d=>d[0],y:d=>d[1],r:15,fill:"white"}),
      Plot.frame({stroke:"black",strokeWidth:3}),
      Plot.axisX({ticks:latTicks,tickFormat:minus,tickSize:14,tickPadding:19,fontSize:43,strokeWidth:3,label:xLabel||null,labelAnchor:"center",labelArrow:"none",labelOffset:122}),
      Plot.axisY({ticks:depthTicks,tickFormat:minus,tickSize:14,tickPadding:14,fontSize:43,strokeWidth:3,label:"Depth [km]",labelAnchor:"center",labelArrow:"none",labelOffset:155})
    ]});
  const d=document.createElement("div");d.className="p";d.style.top=top+"px";d.append(svg);
  document.getElementById("fig").append(d);
}
panel(panel1,{top:1,height:1080,marginBottom:85});
panel(panel2,{top:1072,height:1121,marginBottom:126,xLabel:"Latitude"});

const levels=palette.map((c,i)=>({from:i/10,to:(i+1)/10,mid:(i+.5)/10}));
const bar=Plot.plot({
  width:237,height:1080,marginLeft:45,marginRight:172,marginTop:22,marginBottom:37,
  style:{fontFamily:"DejaVu Sans",background:"transparent",overflow:"visible"},
  y:{domain:[0,1]},color:colorScale,
  marks:[
    Plot.rect(levels,{y1:"from",y2:"to",fill:"mid",shapeRendering:"crispEdges"}),
    Plot.frame({stroke:"black",strokeWidth:3}),
    Plot.axisY({anchor:"right",ticks:barTicks,tickFormat:".1f",tickSize:14,tickPadding:14,fontSize:43,strokeWidth:3,label:null})
  ]});
const bd=document.createElement("div");bd.className="p";bd.style.left="1690px";bd.style.top="541px";bd.append(bar);
document.getElementById("fig").append(bd);

const t1=document.createElement("div");t1.className="t";t1.style.top="29px";t1.style.fontSize="52px";t1.style.wordSpacing="-4px";
t1.textContent="r( < OCAR > + < ORAC > ,  < ORAR > )";
const t2=document.createElement("div");t2.className="t";t2.style.top="1100px";t2.style.fontSize="53.5px";
const member="memb#00";
t2.innerHTML=`r(OCAR<sub>${member}</sub>+ORAC<sub>${member}</sub>, ORAR<sub>${member}</sub>)`;
document.getElementById("fig").append(t1,t2);
</script></body></html>
